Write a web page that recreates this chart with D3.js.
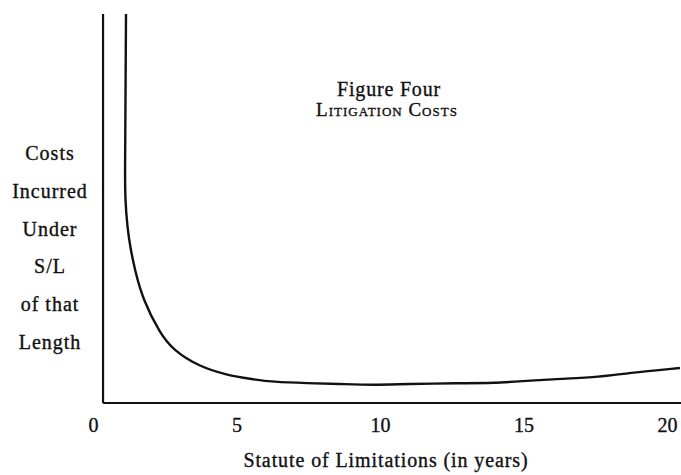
<!DOCTYPE html>
<html>
<head>
<meta charset="utf-8">
<script src="https://cdn.jsdelivr.net/npm/d3@7"></script>
<style>
  html, body { margin: 0; padding: 0; background: #fff; }
  svg { display: block; }
  text { font-family: "Liberation Serif", "DejaVu Serif", serif; fill: #111; stroke: #111; stroke-width: 0.35px; }
</style>
</head>
<body>
<svg id="chart" width="681" height="475"></svg>
<script>
// ---- data ----
const years = [1.15, 1.13, 1.115, 1.12, 1.20, 1.30, 1.45, 1.74, 2.33, 2.79, 3.73, 4.67, 5.47, 6.27, 7.46, 8.61, 9.76, 10.94, 12.79, 13.94, 15.12, 16.27, 17.67, 18.61, 20.45];
const costs = [100, 75, 60, 52.2, 45.0, 40.0, 34.5, 26.5, 18.0, 13.6, 9.25, 7.2, 6.2, 5.4, 5.1, 4.9, 4.6, 4.9, 5.1, 5.1, 5.7, 6.2, 6.7, 7.7, 9.0];
const xTicks = [0, 5, 10, 15, 20];
const yLabelLines = ["Costs", "Incurred", "Under", "S/L", "of that", "Length"];
const titleLines = ["Figure Four", "Litigation Costs"];
const xTitle = "Statute of Limitations (in years)";

const svg = d3.select("#chart");
const x = d3.scaleLinear().domain([0, 20]).range([93, 667]);
const y = d3.scaleLinear().domain([0, 100]).range([403, 14]);
const axisX0 = 0.35;

// axes lines
svg.append("line")
  .attr("x1", x(axisX0)).attr("x2", x(axisX0))
  .attr("y1", y(100)).attr("y2", y(0))
  .attr("stroke", "#111").attr("stroke-width", 2.2);
svg.append("line")
  .attr("x1", x(axisX0)).attr("x2", 681)
  .attr("y1", y(0)).attr("y2", y(0))
  .attr("stroke", "#111").attr("stroke-width", 2.2);

// tick labels
const xAxis = d3.axisBottom(x).tickValues(xTicks).tickSize(0).tickPadding(0).tickFormat(d3.format("d"));
const gx = svg.append("g").attr("transform", "translate(0,418)").call(xAxis);
gx.select(".domain").remove();
gx.selectAll("text")
  .attr("font-family", "Liberation Serif, serif")
  .attr("font-size", 20)
  .attr("fill", "#111");

// curve
const line = d3.line()
  .x((d, i) => x(years[i]))
  .y((d, i) => y(costs[i]))
  .curve(d3.curveBasis);
svg.append("path")
  .datum(costs)
  .attr("d", line)
  .attr("fill", "none")
  .attr("stroke", "#111")
  .attr("stroke-width", 2.4);

// title
svg.append("text")
  .attr("x", 389).attr("y", 96)
  .attr("text-anchor", "middle")
  .attr("font-size", 20)
  .style("letter-spacing", "0.8px")
  .text(titleLines[0]);
svg.append("text")
  .attr("x", 387).attr("y", 116)
  .attr("text-anchor", "middle")
  .attr("font-size", 19)
  .style("font-variant", "small-caps")
  .style("letter-spacing", "1px")
  .text(titleLines[1]);

// y label
yLabelLines.forEach((t, i) => {
  svg.append("text")
    .attr("x", 50).attr("y", 160 + i * 37.8)
    .attr("text-anchor", "middle")
    .attr("font-size", 20)
    .style("letter-spacing", "1px")
    .text(t);
});

// x title
svg.append("text")
  .attr("x", 386).attr("y", 467)
  .attr("text-anchor", "middle")
  .attr("font-size", 20)
  .style("letter-spacing", "0.9px")
  .text(xTitle);
</script>
</body>
</html>
